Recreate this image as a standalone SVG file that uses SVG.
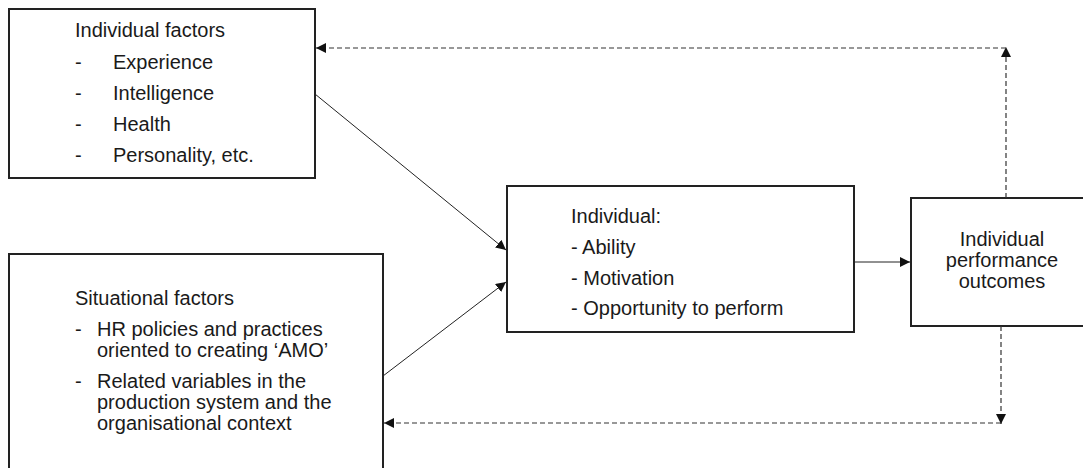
<svg xmlns="http://www.w3.org/2000/svg" width="1083" height="468" viewBox="0 0 1083 468">
<style>
.box{fill:#fff;stroke:#222;stroke-width:2}
text{font-family:"Liberation Sans",Arial,sans-serif;font-size:20px;fill:#1a1a1a}
.ln{fill:none;stroke:#222;stroke-width:1}
.dash{fill:none;stroke:#333;stroke-width:1.2;stroke-dasharray:5 3}
</style>
<defs>
<marker id="ah" viewBox="0 0 10 10" refX="10" refY="5" markerWidth="10" markerHeight="10" markerUnits="userSpaceOnUse" orient="auto">
<path d="M0,0 L10,5 L0,10 z" fill="#111"/>
</marker>
</defs>
<g id="individual-factors">
<rect class="box" x="9" y="9" width="306" height="169"/>
<text x="75" y="37">Individual factors</text>
<text x="75" y="69">-</text><text x="113" y="69">Experience</text>
<text x="75" y="100">-</text><text x="113" y="100">Intelligence</text>
<text x="75" y="131">-</text><text x="113" y="131">Health</text>
<text x="75" y="162">-</text><text x="113" y="162">Personality, etc.</text>
</g>
<g id="situational-factors">
<rect class="box" x="9" y="254" width="374" height="220"/>
<text x="75" y="305">Situational factors</text>
<text x="75" y="336">-</text><text x="97" y="336">HR policies and practices</text>
<text x="97" y="357">oriented to creating ‘AMO’</text>
<text x="75" y="388">-</text><text x="97" y="388">Related variables in the</text>
<text x="97" y="409">production system and the</text>
<text x="97" y="430">organisational context</text>
</g>
<g id="individual">
<rect class="box" x="507" y="186" width="347" height="146"/>
<text x="571" y="223">Individual:</text>
<text x="571" y="254">- Ability</text>
<text x="571" y="285">- Motivation</text>
<text x="571" y="315">- Opportunity to perform</text>
</g>
<g id="outcomes">
<rect class="box" x="911" y="198" width="180" height="128"/>
<text x="1002" y="246" text-anchor="middle">Individual</text>
<text x="1002" y="267" text-anchor="middle">performance</text>
<text x="1002" y="288" text-anchor="middle">outcomes</text>
</g>
<g id="connectors">
<line class="ln" x1="315" y1="94" x2="506" y2="250" marker-end="url(#ah)"/>
<line class="ln" x1="383" y1="376" x2="506" y2="282" marker-end="url(#ah)"/>
<line class="ln" x1="854" y1="262" x2="910" y2="262" marker-end="url(#ah)"/>
<line class="dash" x1="1006" y1="198" x2="1006" y2="47" marker-end="url(#ah)"/>
<line class="dash" x1="1006" y1="48" x2="316" y2="48" marker-end="url(#ah)"/>
<line class="dash" x1="1001" y1="326" x2="1001" y2="424" marker-end="url(#ah)"/>
<line class="dash" x1="1001" y1="423" x2="384" y2="423" marker-end="url(#ah)"/>
</g>
</svg>
